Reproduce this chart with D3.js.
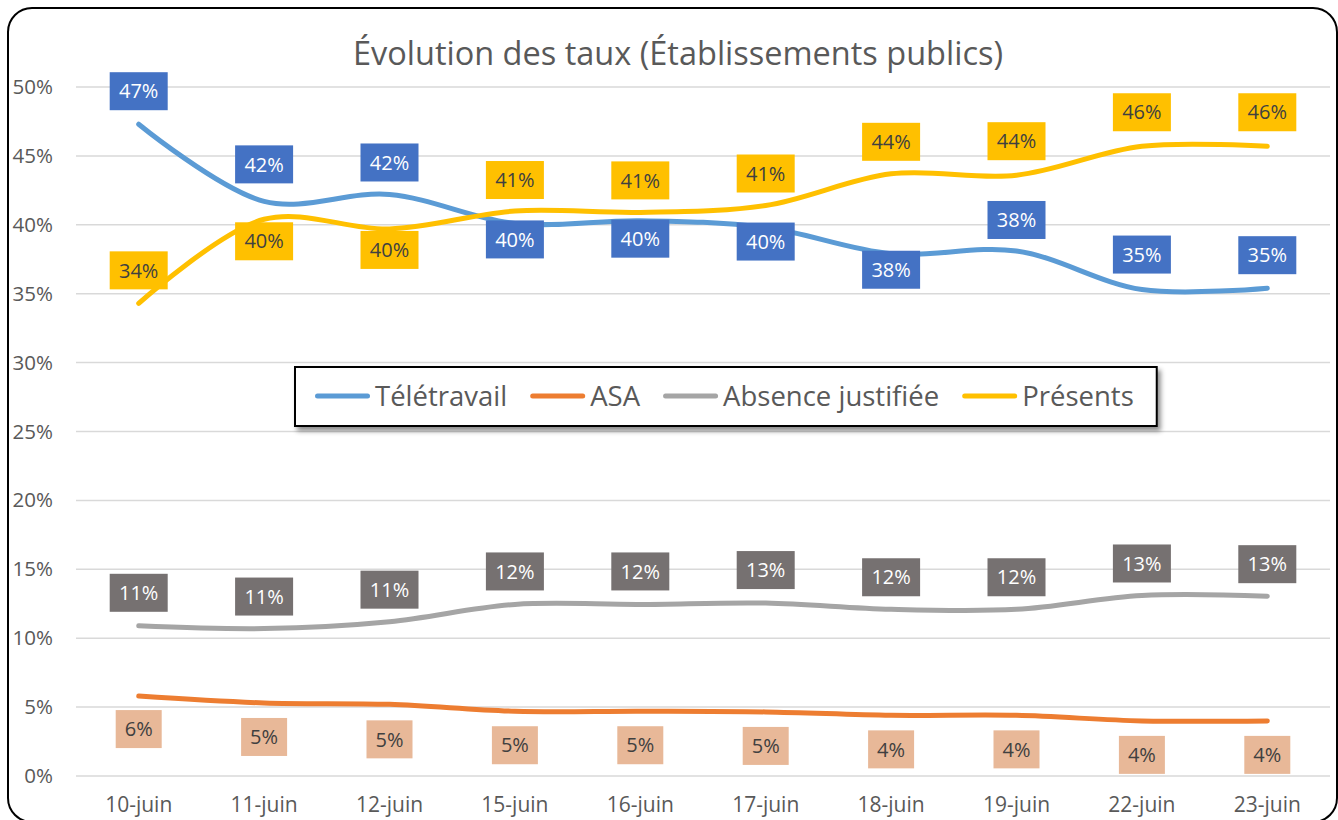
<!DOCTYPE html>
<html>
<head>
<meta charset="utf-8">
<script src="https://cdn.jsdelivr.net/npm/d3@7"></script>
<style>
    body { margin: 0; background: #fff; }
    svg { display: block; }
    text { font-family: "Open Sans", sans-serif; }
</style>
</head>
<body>
<svg id="chart" width="1338" height="820"></svg>
<script>
// Values (in %)
const categories = ["10-juin", "11-juin", "12-juin", "15-juin", "16-juin", "17-juin", "18-juin", "19-juin", "22-juin", "23-juin"];
const teletravail = [47.3, 41.7, 42.2, 40.1, 40.3, 39.8, 37.9, 38.1, 35.3, 35.4];
const asa = [5.8, 5.3, 5.2, 4.7, 4.7, 4.65, 4.4, 4.4, 4.0, 4.0];
const absence = [10.9, 10.7, 11.2, 12.45, 12.45, 12.55, 12.1, 12.1, 13.1, 13.05];
const presents = [34.3, 40.4, 39.7, 41.0, 40.9, 41.4, 43.7, 43.6, 45.7, 45.7];
const yTicks = [0, 5, 10, 15, 20, 25, 30, 35, 40, 45, 50];

const TITLE = "Évolution des taux (Établissements publics)";

// Label offsets (px) from the point: negative = above, positive = below
const teleOffsets = [-33, -37, -32, 16, 18, 14, 16, -31, -35, -33];
const asaOffsets = [33, 34, 35, 34, 34, 34, 34, 34, 34, 34];
const absenceOffsets = [-33, -32, -32, -33, -33, -33, -32, -32, -32, -32];
const presentsOffsets = [-33, 22, 21, -31, -32, -32, -32, -34, -34, -34];

const series = [
    { name: "Télétravail", values: teletravail, off: teleOffsets,
      color: "#5B9BD5", box: "#4472C4", text: "#ffffff" },
    { name: "ASA", values: asa, off: asaOffsets,
      color: "#ED7D31", box: "#E8B898", text: "#404040" },
    { name: "Absence justifiée", values: absence, off: absenceOffsets,
      color: "#A5A5A5", box: "#767171", text: "#ffffff" },
    { name: "Présents", values: presents, off: presentsOffsets,
      color: "#FFC000", box: "#FFC000", text: "#404040" },
];

const CHART = {
    left: 76, right: 1330, top: 87, bottom: 776,
};

const svg = d3.select("#chart");

// shadow for the legend
const defs = svg.append("defs");
const f = defs.append("filter").attr("id", "shadow")
    .attr("x", "-5%").attr("y", "-30%").attr("width", "115%").attr("height", "180%");
f.append("feDropShadow").attr("dx", 3).attr("dy", 4).attr("stdDeviation", 2.5)
    .attr("flood-color", "#000").attr("flood-opacity", 0.45);

// chart area border
svg.append("rect")
    .attr("x", 8).attr("y", 8)
    .attr("width", 1329).attr("height", 814)
    .attr("rx", 24)
    .attr("fill", "#fff")
    .attr("stroke", "#000")
    .attr("stroke-width", 2);

// Title
svg.append("text")
    .attr("x", 678).attr("y", 65)
    .attr("text-anchor", "middle")
    .attr("font-size", 32.5)
    .attr("fill", "#595959")
    .text(TITLE);

// Scales
const x = d3.scaleBand().domain(categories).range([CHART.left, CHART.right]);
const y = d3.scaleLinear().domain([0, 50]).range([CHART.bottom, CHART.top]);
const cx = (d) => x(d) + x.bandwidth() / 2;

// Gridlines
svg.append("g")
    .selectAll("line")
    .data(yTicks)
    .join("line")
    .attr("x1", CHART.left).attr("x2", CHART.right)
    .attr("y1", (d) => y(d)).attr("y2", (d) => y(d))
    .attr("stroke", "#D9D9D9")
    .attr("stroke-width", 1.5);

// Axes
const yAxis = svg.append("g")
    .attr("transform", `translate(${CHART.left},0)`)
    .call(d3.axisLeft(y).tickValues(yTicks).tickFormat((d) => d + "%").tickSize(0).tickPadding(23));
yAxis.select(".domain").remove();
yAxis.selectAll("text").attr("font-size", 20.5).attr("fill", "#595959")
    .attr("font-family", "Open Sans, sans-serif");

const xAxis = svg.append("g")
    .attr("transform", `translate(0,${CHART.bottom})`)
    .call(d3.axisBottom(x).tickSize(0).tickPadding(21));
xAxis.select(".domain").remove();
xAxis.selectAll("text").attr("font-size", 21).attr("fill", "#595959")
    .attr("font-family", "Open Sans, sans-serif");

// Lines
const line = d3.line()
    .x((d, i) => cx(categories[i]))
    .y((d) => y(d))
    .curve(d3.curveCatmullRom.alpha(0.5));

series.forEach((s) => {
    svg.append("path")
        .datum(s.values)
        .attr("fill", "none")
        .attr("stroke", s.color)
        .attr("stroke-width", 5)
        .attr("stroke-linecap", "round")
        .attr("d", line);
});

// Data labels
series.forEach((s) => {
    const g = svg.append("g");
    s.values.forEach((v, i) => {
        const label = Math.round(v) + "%";
        const w = label.length > 2 ? 58 : 46;
        const h = 38;
        const px = cx(categories[i]);
        const py = y(v) + s.off[i];
        g.append("rect")
            .attr("x", px - w / 2).attr("y", py - h / 2)
            .attr("width", w).attr("height", h)
            .attr("fill", s.box);
        g.append("text")
            .attr("x", px).attr("y", py)
            .attr("dy", "0.36em")
            .attr("text-anchor", "middle")
            .attr("font-size", 20)
            .attr("fill", s.text)
            .text(label);
    });
});

// Legend
const legend = svg.append("g");
const legendBox = legend.append("rect")
    .attr("y", 367).attr("height", 59)
    .attr("fill", "#fff")
    .attr("stroke", "#000")
    .attr("stroke-width", 2)
    .attr("filter", "url(#shadow)");

let lx = 0;
const gap = 23;
const items = legend.append("g");
series.forEach((s) => {
    const it = items.append("g").attr("transform", `translate(${lx},0)`);
    it.append("line")
        .attr("x1", 2.5).attr("x2", 52.5)
        .attr("y1", 396).attr("y2", 396)
        .attr("stroke", s.color)
        .attr("stroke-width", 5)
        .attr("stroke-linecap", "round");
    const t = it.append("text")
        .attr("x", 60).attr("y", 396)
        .attr("dy", "0.35em")
        .attr("font-size", 27.5)
        .attr("fill", "#595959")
        .text(s.name);
    lx += 60 + t.node().getComputedTextLength() + gap;
});
lx -= gap;
const legendLeft = 315;
items.attr("transform", `translate(${legendLeft},0)`);
legendBox.attr("x", 295).attr("width", lx + 20 + 23);
</script>
</body>
</html>
